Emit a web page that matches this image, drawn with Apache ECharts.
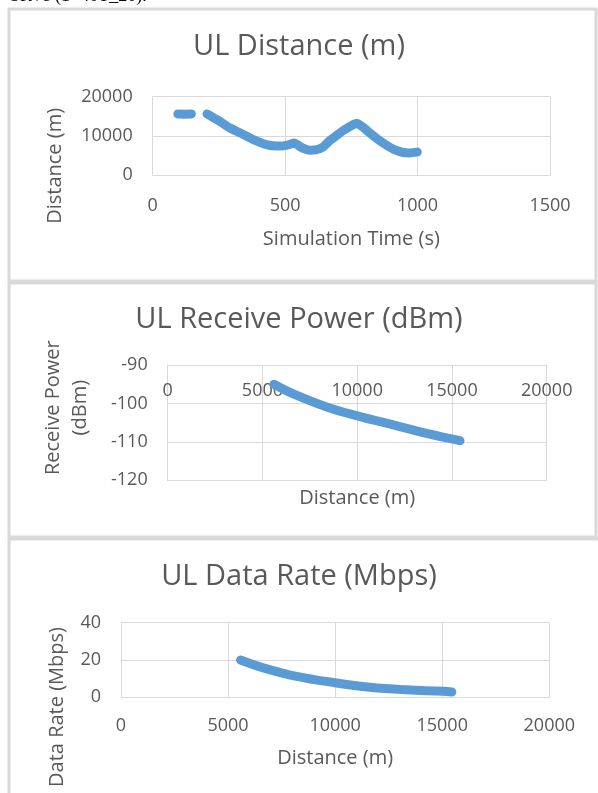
<!DOCTYPE html>
<html>
<head>
<meta charset="utf-8">
<script src="https://cdn.jsdelivr.net/npm/echarts@6/dist/echarts.min.js"></script>
<style>
html,body{margin:0;padding:0;background:#fff;}
#chart{width:598px;height:793px;}
</style>
</head>
<body>
<div id="chart"></div>
<script>
// Panel 1: UL Distance vs simulation time (two visible segments)
const timeA = [95, 120, 146];
const distA = [15600, 15500, 15600];
const timeB = [205, 230, 260, 292, 325, 355, 385, 418, 440, 455, 480, 505, 522, 533, 545, 560, 578, 594, 615, 640, 669, 695, 720, 750, 770, 790, 820, 850, 883, 915, 946, 970, 999];
const distB = [15600, 14600, 13400, 12000, 10900, 9900, 8900, 8000, 7600, 7450, 7400, 7550, 7900, 8150, 7800, 7100, 6600, 6350, 6400, 7000, 8800, 10100, 11400, 12600, 13200, 12400, 10700, 9100, 7600, 6400, 5750, 5650, 5850];

// Panel 2: UL receive power vs distance
const rxDist = [5600, 6628, 8390, 10058, 11905, 13668, 15425];
const rxPower = [-95.0, -97.5, -100.9, -103.3, -105.6, -107.8, -109.7];

// Panel 3: UL data rate vs distance
const rateDist = [5580, 6643, 8203, 9991, 11625, 13338, 15049, 15450];
const rateMbps = [20.0, 15.8, 11.2, 7.8, 5.4, 4.0, 3.2, 2.8];

const titles = ['UL Distance (m)', 'UL Receive Power (dBm)', 'UL Data Rate (Mbps)'];

const FONT = '"Open Sans", "Noto Sans", sans-serif';
const TXT = '#595959';
const GRID = '#d9d9d9';
const BLUE = '#5B9BD5';

function zip(xs, ys) { return xs.map((x, i) => [x, ys[i]]); }
const plain = v => String(v);

function xAx(grid, min, max, interval, name, labelOpt, nameGap) {
  return {
    type: 'value', gridIndex: grid, min: min, max: max, interval: interval,
    axisLine: { show: true, lineStyle: { color: GRID, width: 1 } },
    axisTick: { show: false },
    splitLine: { show: true, lineStyle: { color: GRID, width: 1 } },
    axisLabel: Object.assign({ fontSize: 18, color: TXT, fontFamily: FONT, formatter: plain }, labelOpt),
    name: name, nameLocation: 'middle', nameGap: nameGap,
    nameTextStyle: { fontSize: 20, color: TXT, fontFamily: FONT }
  };
}
function yAx(grid, min, max, interval, name, nameGap, pad, lh) {
  return {
    type: 'value', gridIndex: grid, min: min, max: max, interval: interval,
    axisLine: { show: true, lineStyle: { color: GRID, width: 1 } },
    axisTick: { show: false },
    splitLine: { show: true, lineStyle: { color: GRID, width: 1 } },
    axisLabel: { fontSize: 18, color: TXT, fontFamily: FONT, margin: 20, formatter: plain },
    name: name, nameLocation: 'middle', nameGap: nameGap,
    nameTextStyle: { fontSize: 20, color: TXT, fontFamily: FONT, padding: pad, lineHeight: lh || 24 }
  };
}
function lineSeries(xi, yi, data, smooth) {
  return {
    type: 'line', xAxisIndex: xi, yAxisIndex: yi, data: data,
    symbol: 'none', smooth: smooth,
    lineStyle: { color: BLUE, width: 9, cap: 'round', join: 'round' },
    itemStyle: { color: BLUE }
  };
}

const chart = echarts.init(document.getElementById('chart'));
chart.setOption({
  animation: false,
  backgroundColor: '#fff',
  title: [
    { text: titles[0], left: 'center', top: 32, padding: [0, 0, 0, 16], textStyle: { fontSize: 29, fontWeight: 'normal', color: TXT, fontFamily: FONT } },
    { text: titles[1], left: 'center', top: 305, padding: [0, 0, 0, 14], textStyle: { fontSize: 29, fontWeight: 'normal', color: TXT, fontFamily: FONT } },
    { text: titles[2], left: 'center', top: 562, padding: [0, 0, 0, 17], textStyle: { fontSize: 29, fontWeight: 'normal', color: TXT, fontFamily: FONT } }
  ],
  graphic: [
    { type: 'text', left: 10, top: -13, style: { text: 'SRVs (1=40T_20).', font: '18px "Liberation Serif", serif', fill: '#000' } },
    { type: 'rect', shape: { x: 9, y: 9, width: 587, height: 272 }, style: { fill: 'none', stroke: GRID, lineWidth: 3 }, z: -1 },
    { type: 'rect', shape: { x: 9, y: 283, width: 587, height: 254 }, style: { fill: 'none', stroke: GRID, lineWidth: 3 }, z: -1 },
    { type: 'rect', shape: { x: 9, y: 539, width: 600, height: 270 }, style: { fill: 'none', stroke: GRID, lineWidth: 3 }, z: -1 }
  ],
  grid: [
    { left: 152.7, top: 96.7, width: 397.3, height: 78.3 },
    { left: 167.7, top: 365, width: 379, height: 115.3 },
    { left: 121, top: 622.7, width: 428.3, height: 74.6 }
  ],
  xAxis: [
    xAx(0, 0, 1500, 500, 'Simulation Time (s)', { margin: 22 }, 54),
    xAx(1, 0, 20000, 5000, 'Distance (m)', { inside: true, margin: 80 }, 8),
    xAx(2, 0, 20000, 5000, 'Distance (m)', { margin: 20 }, 51)
  ],
  yAxis: [
    yAx(0, 0, 20000, 10000, 'Distance (m)', 85, [0, 60, 0, 0]),
    yAx(1, -120, -90, 10, 'Receive Power\n(dBm)', 74, [0, 0, 0, 30], 27),
    yAx(2, 0, 40, 20, 'Data Rate (Mbps)', 34, [0, 94, 0, 0])
  ],
  series: [
    lineSeries(0, 0, zip(timeA, distA), 0),
    lineSeries(0, 0, zip(timeB, distB), 0.2),
    lineSeries(1, 1, zip(rxDist, rxPower), 0.4),
    lineSeries(2, 2, zip(rateDist, rateMbps), 0.4)
  ]
});
</script>
</body>
</html>
